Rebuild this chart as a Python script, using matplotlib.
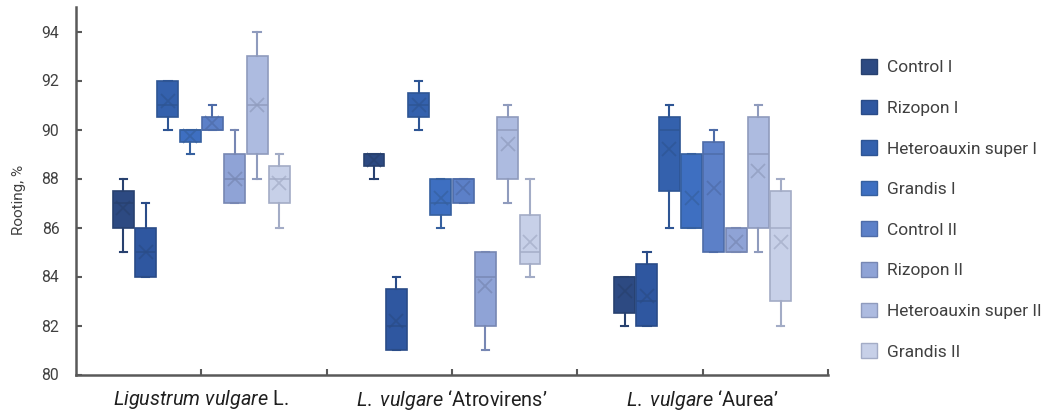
import matplotlib
matplotlib.use("Agg")
import matplotlib.pyplot as plt
from matplotlib.patches import Patch

# --------------------------------------------------------------------------- #
# Data
# --------------------------------------------------------------------------- #
groups = [r"$\mathit{Ligustrum}$ $\mathit{vulgare}$ L.",
          r"$\mathit{L.}$ $\mathit{vulgare}$ ‘Atrovirens’",
          r"$\mathit{L.}$ $\mathit{vulgare}$ ‘Aurea’"]

series = ["Control I", "Rizopon I", "Heteroauxin super I", "Grandis I",
          "Control II", "Rizopon II", "Heteroauxin super II", "Grandis II"]

# one list per series, one value per group
whis_lo = [[85, 88, 82], [84, 81, 82], [90, 90, 86], [89, 86, 86],
           [90, 87, 85], [87, 81, 85], [88, 87, 85], [86, 84, 82]]
q1 = [[86, 88.5, 82.5], [84, 81, 82], [90.5, 90.5, 87.5], [89.5, 86.5, 86],
      [90, 87, 85], [87, 82, 85], [89, 88, 86], [87, 84.5, 83]]
median = [[87, 89, 84], [85, 82, 83], [91, 91, 90], [90, 87, 86],
          [90, 88, 89], [88, 84, 85], [91, 90, 89], [88, 85, 86]]
q3 = [[87.5, 89, 84], [86, 83.5, 84.5], [92, 91.5, 90.5], [90, 88, 89],
      [90.5, 88, 89.5], [89, 85, 86], [93, 90.5, 90.5], [88.5, 86.5, 87.5]]
whis_hi = [[88, 89, 84], [87, 84, 85], [92, 92, 91], [90, 88, 89],
           [91, 88, 90], [90, 85, 86], [94, 91, 91], [89, 88, 88]]
mean = [[86.78, 88.75, 83.4], [85, 82.17, 83.2], [91.17, 91, 89.2],
        [89.75, 87.2, 87.2], [90.25, 87.6, 87.6], [88, 83.6, 85.4],
        [91, 89.4, 88.3], [87.8, 85.4, 85.4]]

face_colors = ["#2D4A82", "#2F57A0", "#3461AD", "#3E6FC1",
               "#5C80C8", "#8FA3D6", "#ADBBE0", "#C7D0E8"]
edge_colors = ["#28416F", "#2A4C88", "#2E5594", "#36609F",
               "#4E6CA8", "#7787B3", "#8F9BBD", "#A3ACC6"]

# --------------------------------------------------------------------------- #
# Style
# --------------------------------------------------------------------------- #
plt.rcParams["font.family"] = ["Roboto", "DejaVu Sans"]
plt.rcParams["mathtext.fontset"] = "custom"
plt.rcParams["mathtext.rm"] = "Roboto"
plt.rcParams["mathtext.it"] = "Roboto:italic"
TEXT = "#404040"
AXIS = "#595959"

fig = plt.figure(figsize=(10.54, 4.13), dpi=100)
ax = fig.add_axes([76 / 1054, 38.5 / 413, 752 / 1054, 367.5 / 413])

n = len(series)
pitch = 0.089
width = 0.083
for i, name in enumerate(series):
    stats = []
    for g in range(len(groups)):
        stats.append(dict(whislo=whis_lo[i][g], q1=q1[i][g], med=median[i][g],
                          q3=q3[i][g], whishi=whis_hi[i][g], mean=mean[i][g],
                          fliers=[]))
    pos = [g + 0.5 + (i - (n - 1) / 2) * pitch for g in range(len(groups))]
    ec = edge_colors[i]
    ax.bxp(stats, positions=pos, widths=width, patch_artist=True,
           showmeans=True, showfliers=False, manage_ticks=False,
           capwidths=width * 0.35,
           boxprops=dict(facecolor=face_colors[i], edgecolor=ec, linewidth=1.2),
           whiskerprops=dict(color=ec, linewidth=1.5),
           capprops=dict(color=ec, linewidth=1.5),
           medianprops=dict(color=ec, linewidth=1.3, alpha=0.8),
           meanprops=dict(marker="x", markersize=10, markeredgewidth=1.3,
                          markeredgecolor=ec, alpha=0.7))

ax.set_xlim(0, 3)
ax.set_ylim(80, 95)
ax.set_yticks(range(80, 95, 2))
ax.set_xticks([0.5, 1.5, 2.5])
ax.set_xticklabels(groups, fontsize=14.3, color="#202020")
ax.set_xticks([1, 2, 3], minor=True)
for side in ("top", "right"):
    ax.spines[side].set_visible(False)
for side in ("left", "bottom"):
    ax.spines[side].set_color(AXIS)
    ax.spines[side].set_linewidth(1.8)
ax.tick_params(axis="both", which="both", direction="in", length=4,
               width=1.5, color=AXIS)
ax.tick_params(axis="y", labelsize=11.3, labelcolor=TEXT, pad=12)
ax.tick_params(axis="x", pad=10)
ax.set_ylabel("Rooting, %", fontsize=11, color=TEXT)
ax.yaxis.set_label_coords(-0.066, 0.475)

handles = [Patch(facecolor=fc, edgecolor=ec, linewidth=1.0)
           for fc, ec in zip(face_colors, edge_colors)]
fig.legend(handles, series, loc="upper left",
           bbox_to_anchor=(861 / 1054, (413 - 59) / 413),
           frameon=False, fontsize=12.5, labelcolor=TEXT,
           handlelength=0.92, handleheight=0.92, handletextpad=0.6,
           labelspacing=1.4, borderpad=0, borderaxespad=0)

fig.savefig("out.png", dpi=100)
